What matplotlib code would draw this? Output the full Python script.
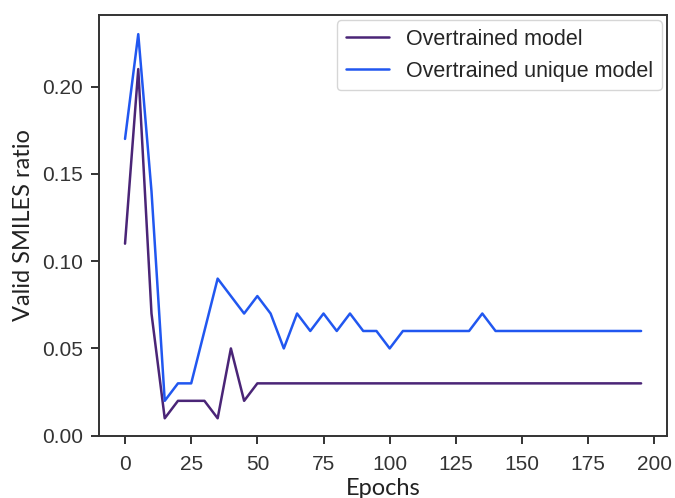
import matplotlib
matplotlib.use("Agg")
import matplotlib.pyplot as plt
import seaborn as sns

epochs = list(range(0, 200, 5))

overtrained = [0.11, 0.21, 0.07, 0.01, 0.02, 0.02, 0.02, 0.01, 0.05, 0.02,
               0.03, 0.03, 0.03, 0.03, 0.03, 0.03, 0.03, 0.03, 0.03, 0.03,
               0.03, 0.03, 0.03, 0.03, 0.03, 0.03, 0.03, 0.03, 0.03, 0.03,
               0.03, 0.03, 0.03, 0.03, 0.03, 0.03, 0.03, 0.03, 0.03, 0.03]

overtrained_unique = [0.17, 0.23, 0.14, 0.02, 0.03, 0.03, 0.06, 0.09, 0.08, 0.07,
                      0.08, 0.07, 0.05, 0.07, 0.06, 0.07, 0.06, 0.07, 0.06, 0.06,
                      0.05, 0.06, 0.06, 0.06, 0.06, 0.06, 0.06, 0.07, 0.06, 0.06,
                      0.06, 0.06, 0.06, 0.06, 0.06, 0.06, 0.06, 0.06, 0.06, 0.06]

sns.set_style("ticks")
plt.rcParams['font.family'] = ['Liberation Sans', 'DejaVu Sans']

fig, ax = plt.subplots(figsize=(6.75, 4.98), dpi=100)
fig.subplots_adjust(left=0.147, right=0.988, top=0.97, bottom=0.125)

ax.plot(epochs, overtrained, color="#4a2577", lw=1.8, label="Overtrained model")
ax.plot(epochs, overtrained_unique, color="#2157f0", lw=1.8, label="Overtrained unique model")

ax.set_ylim(0, 0.241)
ax.set_xticks([0, 25, 50, 75, 100, 125, 150, 175, 200])
ax.set_yticks([0.0, 0.05, 0.10, 0.15, 0.20])
ax.tick_params(labelsize=15, colors="#333333", length=5.5, width=1.4, pad=6)
ax.tick_params(axis="x", pad=8)
for s in ax.spines.values():
    s.set_color("#333333")
    s.set_linewidth(1.4)

ax.set_xlabel("Epochs", fontsize=17, family="Lato", color="#222222", labelpad=3)
ax.set_ylabel("Valid SMILES ratio", fontsize=17, family="Lato", color="#222222", labelpad=6)
ax.legend(fontsize=15.5, loc="upper right", borderaxespad=0.25)

fig.savefig("out.png", dpi=100)
